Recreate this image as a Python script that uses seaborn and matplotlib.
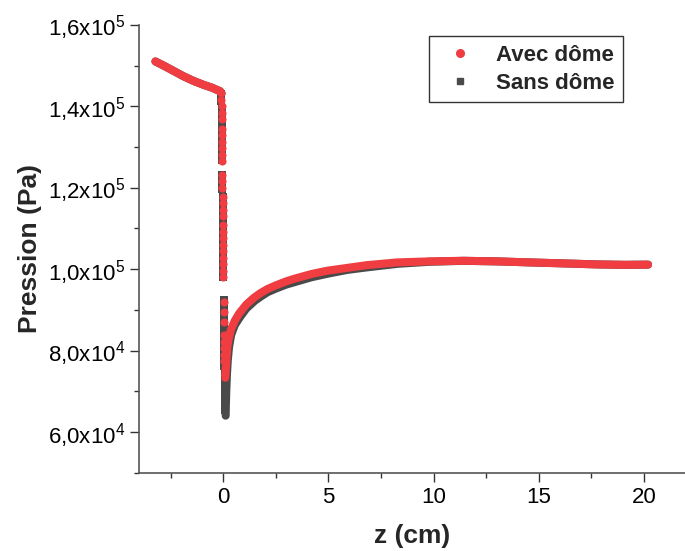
import numpy as np
import pandas as pd
import seaborn as sns
import matplotlib.pyplot as plt
from matplotlib.lines import Line2D
from matplotlib.ticker import FixedLocator, MultipleLocator

# Upstream part (both series overlap)
z_amont = [-3.22, -2.8, -2.4, -1.9, -1.4, -0.9, -0.5, -0.29, -0.15, -0.08]
p_amont = [1.510, 1.499, 1.488, 1.474, 1.462, 1.452, 1.445, 1.440, 1.437, 1.432]

# Pressure drop around z = 0 (dotted part)
p_chute_avec = [1.432, 1.416, 1.400, 1.384, 1.368, 1.345, 1.329, 1.313, 1.297, 1.281,
                1.265, 1.232, 1.216, 1.200, 1.178, 1.162, 1.146, 1.130, 1.108, 1.092,
                1.076, 1.060, 1.044, 1.028, 1.012, 0.996, 0.980, 0.918, 0.894, 0.870,
                0.838, 0.822, 0.806, 0.790, 0.774, 0.758, 0.742]
z_chute_avec = [-0.08, -0.08, -0.07, -0.07, -0.07, -0.06, -0.06, -0.06, -0.05, -0.05,
                -0.05, -0.04, -0.04, -0.04, -0.03, -0.03, -0.03, -0.02, -0.02, -0.02,
                -0.01, -0.01, -0.01, 0.00, 0.00, 0.01, 0.01, 0.02, 0.02, 0.03,
                0.04, 0.04, 0.05, 0.05, 0.06, 0.07, 0.08]
p_chute_sans = [1.430, 1.412, 1.394, 1.376, 1.358, 1.340, 1.322, 1.304, 1.286, 1.268,
                1.232, 1.214, 1.196, 1.178, 1.160, 1.142, 1.124, 1.106, 1.088, 1.070,
                1.052, 1.034, 1.016, 0.998, 0.980, 0.925, 0.907, 0.889, 0.871, 0.853,
                0.835, 0.817, 0.799, 0.781, 0.763, 0.745, 0.727, 0.709, 0.691, 0.673,
                0.655]
z_chute_sans = [-0.08, -0.08, -0.07, -0.07, -0.06, -0.06, -0.06, -0.05, -0.05, -0.05,
                -0.04, -0.04, -0.04, -0.03, -0.03, -0.03, -0.02, -0.02, -0.02, -0.01,
                -0.01, -0.01, 0.00, 0.00, 0.01, 0.02, 0.02, 0.03, 0.03, 0.04,
                0.04, 0.05, 0.05, 0.06, 0.06, 0.07, 0.08, 0.08, 0.09, 0.10,
                0.11]

# Downstream recovery
z_aval_avec = [0.10, 0.15, 0.20, 0.28, 0.36, 0.55, 0.76, 1.1, 1.47, 1.77, 2.1, 2.5, 3.0,
               3.36, 4.2, 4.94, 5.9, 6.84, 8.27, 9.8, 11.44, 13.0, 14.6, 16.2, 17.78,
               19.1, 20.2]
p_aval_avec = [0.733, 0.770, 0.809, 0.832, 0.850, 0.873, 0.891, 0.913, 0.930, 0.941, 0.951,
               0.960, 0.970, 0.976, 0.988, 0.996, 1.003, 1.0098, 1.0164, 1.019, 1.0205,
               1.019, 1.0164, 1.014, 1.0115, 1.0105, 1.011]
z_aval_sans = [0.12, 0.13, 0.15, 0.18, 0.22, 0.28, 0.38, 0.55, 0.8, 1.1, 1.5, 1.8, 2.1,
               2.5, 3.0, 3.4, 4.2, 5.0, 5.9, 6.8, 8.3, 9.8, 11.4, 13.0, 14.6, 16.2, 17.8,
               19.1, 20.2]
p_aval_sans = [0.640, 0.665, 0.700, 0.740, 0.775, 0.808, 0.838, 0.862, 0.882, 0.903, 0.922,
               0.933, 0.943, 0.952, 0.962, 0.968, 0.980, 0.989, 0.998, 1.004, 1.013, 1.018,
               1.0203, 1.019, 1.0164, 1.014, 1.0115, 1.0105, 1.011]

ytick_vals = [6e4, 8e4, 1e5, 1.2e5, 1.4e5, 1.6e5]
ytick_labels = ['6,0x10$^4$', '8,0x10$^4$', '1,0x10$^5$', '1,2x10$^5$', '1,4x10$^5$', '1,6x10$^5$']

red = '#EF3D42'
grey = '#4A4A4A'

sns.set_style('ticks')
plt.rcParams['font.family'] = ['Liberation Sans', 'DejaVu Sans']
plt.rcParams['mathtext.fontset'] = 'custom'
plt.rcParams['mathtext.rm'] = 'Liberation Sans'
plt.rcParams['mathtext.default'] = 'regular'

fig = plt.figure(figsize=(6.85, 5.51), dpi=100)
ax = fig.add_axes([0.2029, 0.1421, 0.7985, 0.8129])

lw = 5.8
ms = 34
# Sans dôme first (underneath)
sns.lineplot(x=z_amont, y=np.array(p_amont) * 1e5, ax=ax, color=grey, linewidth=lw,
             solid_capstyle='round', sort=False)
sns.scatterplot(x=z_chute_sans, y=np.array(p_chute_sans) * 1e5, ax=ax, color=grey,
                marker='s', s=ms, linewidth=0)
sns.lineplot(x=z_aval_sans, y=np.array(p_aval_sans) * 1e5, ax=ax, color=grey, linewidth=lw,
             solid_capstyle='round', sort=False)
# Avec dôme on top
sns.lineplot(x=z_amont, y=np.array(p_amont) * 1e5, ax=ax, color=red, linewidth=lw,
             solid_capstyle='round', sort=False)
sns.scatterplot(x=z_chute_avec, y=np.array(p_chute_avec) * 1e5, ax=ax, color=red,
                marker='o', s=ms, linewidth=0)
sns.lineplot(x=z_aval_avec, y=np.array(p_aval_avec) * 1e5, ax=ax, color=red, linewidth=lw,
             solid_capstyle='round', sort=False)

ax.set_xlim(-4, 22)
ax.set_ylim(5e4, 1.6e5)
ax.set_xticks([0, 5, 10, 15, 20])
ax.xaxis.set_minor_locator(MultipleLocator(2.5))
ax.yaxis.set_major_locator(FixedLocator(ytick_vals))
ax.set_yticklabels(ytick_labels)
ax.yaxis.set_minor_locator(FixedLocator([5e4, 7e4, 9e4, 1.1e5, 1.3e5, 1.5e5]))
ax.tick_params(axis='both', which='major', direction='out', length=6.5, width=1,
               labelsize=16, colors='#333333', labelcolor='black')
ax.tick_params(axis='both', which='minor', direction='out', length=3.5, width=1,
               colors='#333333')
for s in ['left', 'bottom']:
    ax.spines[s].set_color('#555555')
    ax.spines[s].set_linewidth(1.2)
sns.despine(ax=ax)

ax.set_xlabel('z (cm)', fontsize=19, fontweight='bold', labelpad=12)
ax.set_ylabel('Pression (Pa)', fontsize=19, fontweight='bold', labelpad=4)

handles = [Line2D([], [], marker='o', linestyle='', color=red, markersize=5.5),
           Line2D([], [], marker='s', linestyle='', color=grey, markersize=4.5)]
leg = ax.legend(handles, ['Avec dôme', 'Sans dôme'], loc='upper right',
                bbox_to_anchor=(0.885, 0.975), prop={'weight': 'bold', 'size': 16},
                frameon=True, fancybox=False, handletextpad=0.6, borderpad=0.4,
                labelspacing=0.3, handlelength=2.0, borderaxespad=0)
leg.get_frame().set_edgecolor('black')
leg.get_frame().set_linewidth(1.0)

plt.savefig('out.png', dpi=100)
